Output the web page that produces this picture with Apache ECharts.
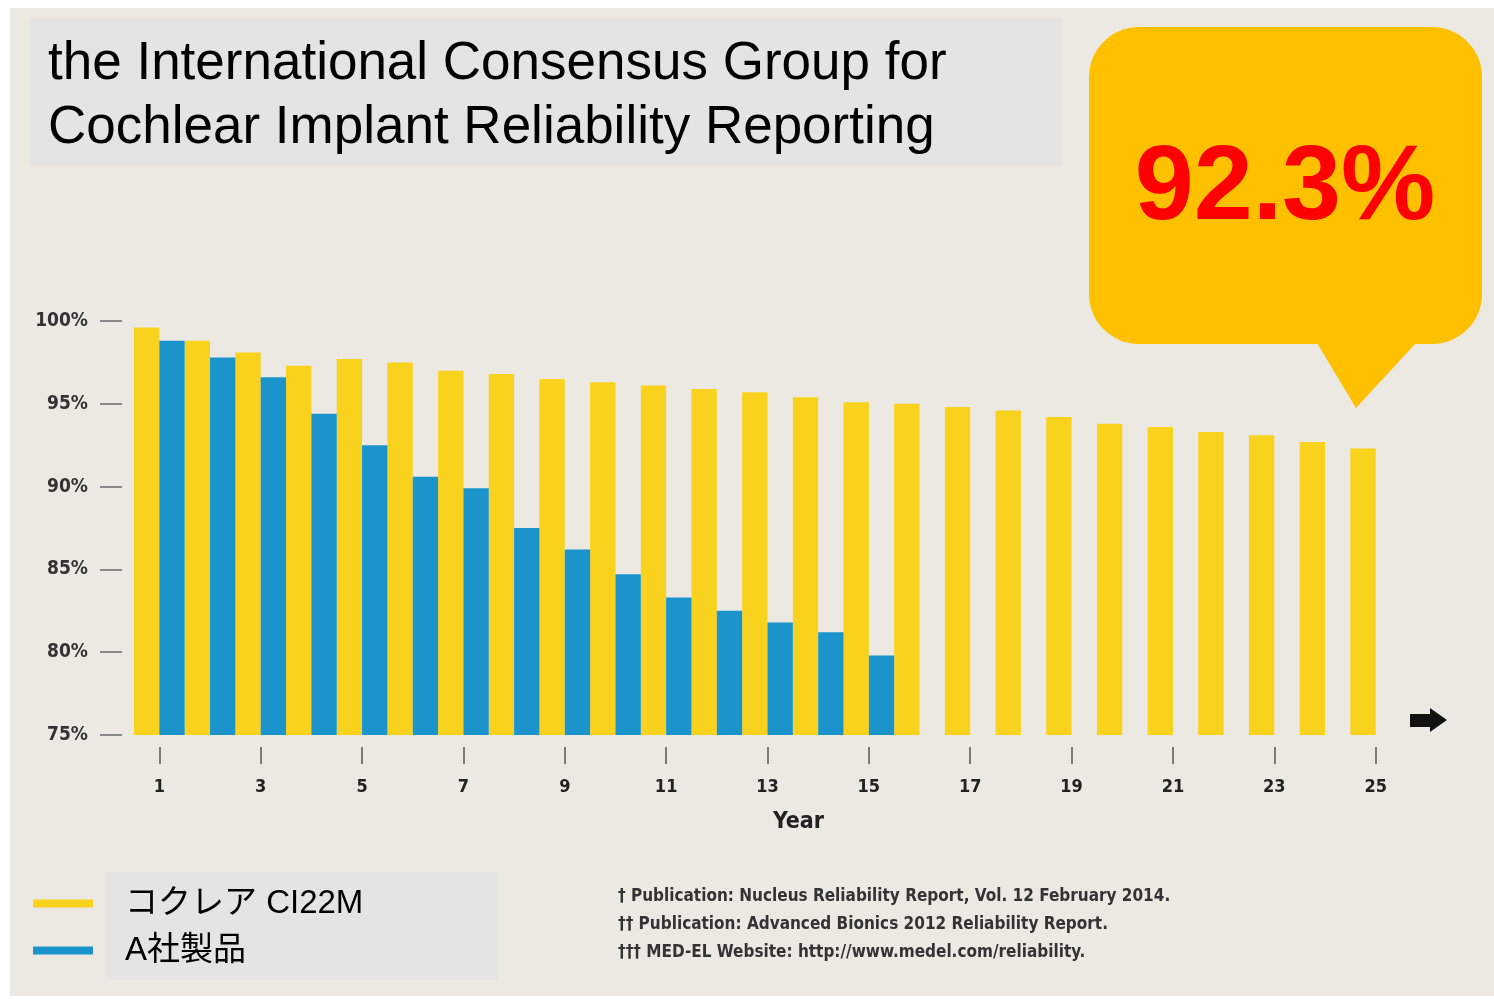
<!DOCTYPE html>
<html>
<head>
<meta charset="utf-8">
<title>Cochlear Implant Reliability</title>
<script src="https://cdn.jsdelivr.net/npm/echarts@6/dist/echarts.min.js"></script>
<style>
  html, body { margin: 0; padding: 0; background: #fff; }
  #main { width: 1494px; height: 1005px; }
</style>
</head>
<body>
<div id="main"></div>
<script>
// 年数（カテゴリ）
var years = ['1','2','3','4','5','6','7','8','9','10','11','12','13','14','15','16','17','18','19','20','21','22','23','24','25'];
// コクレア CI22M の累積生存率 (%)
var cochlear = [99.6, 98.8, 98.1, 97.3, 97.7, 97.5, 97.0, 96.8, 96.5, 96.3, 96.1, 95.9, 95.7, 95.4, 95.1,
                95.0, 94.8, 94.6, 94.2, 93.8, 93.6, 93.3, 93.1, 92.7, 92.3];
// A社製品 (15年まで)
var companyA = [98.8, 97.8, 96.6, 94.4, 92.5, 90.6, 89.9, 87.5, 86.2, 84.7, 83.3, 82.5, 81.8, 81.2, 79.8];
var seriesNames = ['コクレア CI22M', 'A社製品'];
var footnotes = [
  '† Publication: Nucleus Reliability Report, Vol. 12 February 2014.',
  '†† Publication: Advanced Bionics 2012 Reliability Report.',
  '††† MED-EL Website: http://www.medel.com/reliability.'
];

var condensed = '"DejaVu Sans Condensed", "Liberation Sans Narrow", "DejaVu Sans", sans-serif';
var arial = '"Liberation Sans", Arial, "Noto Sans CJK JP", sans-serif';

var myChart = echarts.init(document.getElementById('main'));

var option = {
  backgroundColor: '#ffffff',
  animation: false,
  grid: {
    left: 134,
    right: 93,
    top: 321,
    bottom: 270
  },
  legend: {
    orient: 'vertical',
    left: 33,
    top: 887,
    padding: 0,
    icon: 'rect',
    itemWidth: 60,
    itemHeight: 8,
    itemGap: 14,
    data: seriesNames,
    textStyle: {
      fontFamily: arial,
      fontSize: 33,
      color: '#000',
      padding: [0, 0, 0, 27]
    }
  },
  xAxis: {
    type: 'category',
    data: years,
    offset: 12,
    axisLine: { show: false },
    axisTick: {
      show: true,
      alignWithLabel: true,
      interval: 1,
      length: 17,
      lineStyle: { color: '#555', width: 1.5 }
    },
    axisLabel: {
      interval: 1,
      margin: 31,
      fontFamily: condensed,
      fontWeight: 'bold',
      fontSize: 18,
      color: '#222'
    },
    name: 'Year',
    nameLocation: 'middle',
    nameGap: 64,
    nameTextStyle: {
      fontFamily: condensed,
      fontWeight: 'bold',
      fontSize: 23,
      color: '#222',
      padding: [0, 0, 0, 62]
    }
  },
  yAxis: {
    type: 'value',
    min: 75,
    max: 100,
    interval: 5,
    offset: 12,
    axisLine: { show: false },
    splitLine: { show: false },
    axisTick: {
      show: true,
      length: 22,
      lineStyle: { color: '#888', width: 2 }
    },
    axisLabel: {
      formatter: '{value}%',
      margin: 34,
      fontFamily: condensed,
      fontWeight: 'bold',
      fontSize: 19,
      color: '#333'
    }
  },
  series: [
    {
      name: seriesNames[0],
      type: 'bar',
      data: cochlear,
      barGap: '0%',
      barCategoryGap: '0%',
      itemStyle: { color: '#F9D21E' }
    },
    {
      name: seriesNames[1],
      type: 'bar',
      data: companyA,
      itemStyle: { color: '#1A94CB' }
    }
  ],
  graphic: [
    // 背景
    { type: 'rect', z: -10, shape: { x: 10, y: 8, width: 1484, height: 988 }, style: { fill: '#ECE9E3' } },
    // タイトル枠
    { type: 'rect', z: -5, shape: { x: 30, y: 18, width: 1032, height: 148 }, style: { fill: '#E4E4E4' } },
    { type: 'text', left: 48, top: 32, style: {
        text: 'the International Consensus Group for\nCochlear Implant Reliability Reporting',
        font: '53px ' + arial, fill: '#000', lineHeight: 64 } },
    // 吹き出し
    { type: 'rect', z: 5, shape: { x: 1089, y: 27, width: 393, height: 317, r: 50 }, style: { fill: '#FFC000' } },
    { type: 'polygon', z: 5, shape: { points: [[1317, 343], [1416, 343], [1356, 408]] }, style: { fill: '#FFC000' } },
    { type: 'text', z: 6, x: 1285, y: 190, style: {
        text: '92.3%', font: 'bold 106px ' + arial, fill: '#FF0000',
        textAlign: 'center', textVerticalAlign: 'middle' } },
    // 矢印
    { type: 'polygon', z: 5, shape: { points: [[1410, 714], [1430, 714], [1430, 708], [1447, 720], [1430, 732], [1430, 727], [1410, 727]] },
      style: { fill: '#111' } },
    // 凡例の枠
    { type: 'rect', z: -5, shape: { x: 105, y: 872, width: 393, height: 108 }, style: { fill: '#E4E4E4' } },
    // 出典
    { type: 'text', left: 618, top: 883, style: {
        text: footnotes.join('\n'), font: 'bold 17px ' + condensed, fill: '#333', lineHeight: 28 } }
  ]
};

myChart.setOption(option);
</script>
</body>
</html>
